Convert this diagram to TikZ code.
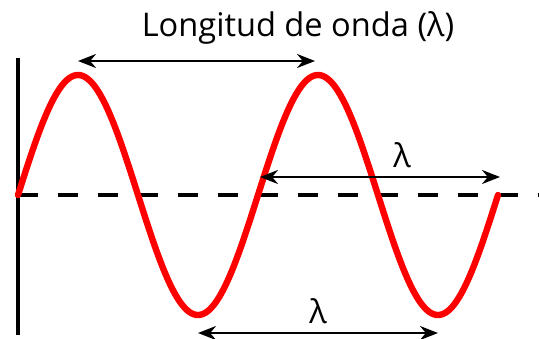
\documentclass[tikz,border=0pt]{standalone}
\usepackage{fontspec}
\setmainfont{Open Sans}
\usepackage{tikz}
\usetikzlibrary{arrows.meta, positioning}
\definecolor{wavered}{HTML}{FF0000}

\begin{document}
\begin{tikzpicture}[
  x=0.5pt, y=-0.5pt,
  wave/.style={draw=wavered, line width=3.2pt, line cap=round},
  axis/.style={line width=2pt},
  base/.style={line width=2.4pt, dash pattern=on 10pt off 10pt},
  span/.style={{Stealth[length=9pt, width=7pt]}-{Stealth[length=9pt, width=7pt]}, line width=1.2pt},
  lbl/.style={font=\fontsize{16.3}{18}\selectfont, inner sep=0pt}
]
\useasboundingbox (0, 0) rectangle (539, 338);

\coordinate (axtop) at (18, 58);
\coordinate (axbot) at (18, 335);
\coordinate (basel) at (18, 195);
\coordinate (baser) at (539, 195);

\draw[axis] (axtop) -- (axbot);
\draw[base] (basel) -- (baser);

\draw[wave] plot[domain=0:480, samples=241, smooth] ({18+\x}, {195-120*sin(\x*1.5)});

\coordinate (peak1) at (78, 61);
\coordinate (peak2) at (315, 61);
\coordinate (midl) at (260, 177);
\coordinate (midr) at (500, 177);
\coordinate (lowl) at (198, 333);
\coordinate (lowr) at (438, 333);

\draw[span] (peak1) -- (peak2);
\draw[span] (midl) -- (midr);
\draw[span] (lowl) -- (lowr);

\node[lbl] (title) at (298, 28) {Longitud de onda (λ)};
\node[lbl] (lammid) at (402, 155) {λ};
\node[lbl] (lamlow) at (318, 311) {λ};

\end{tikzpicture}
\end{document}
